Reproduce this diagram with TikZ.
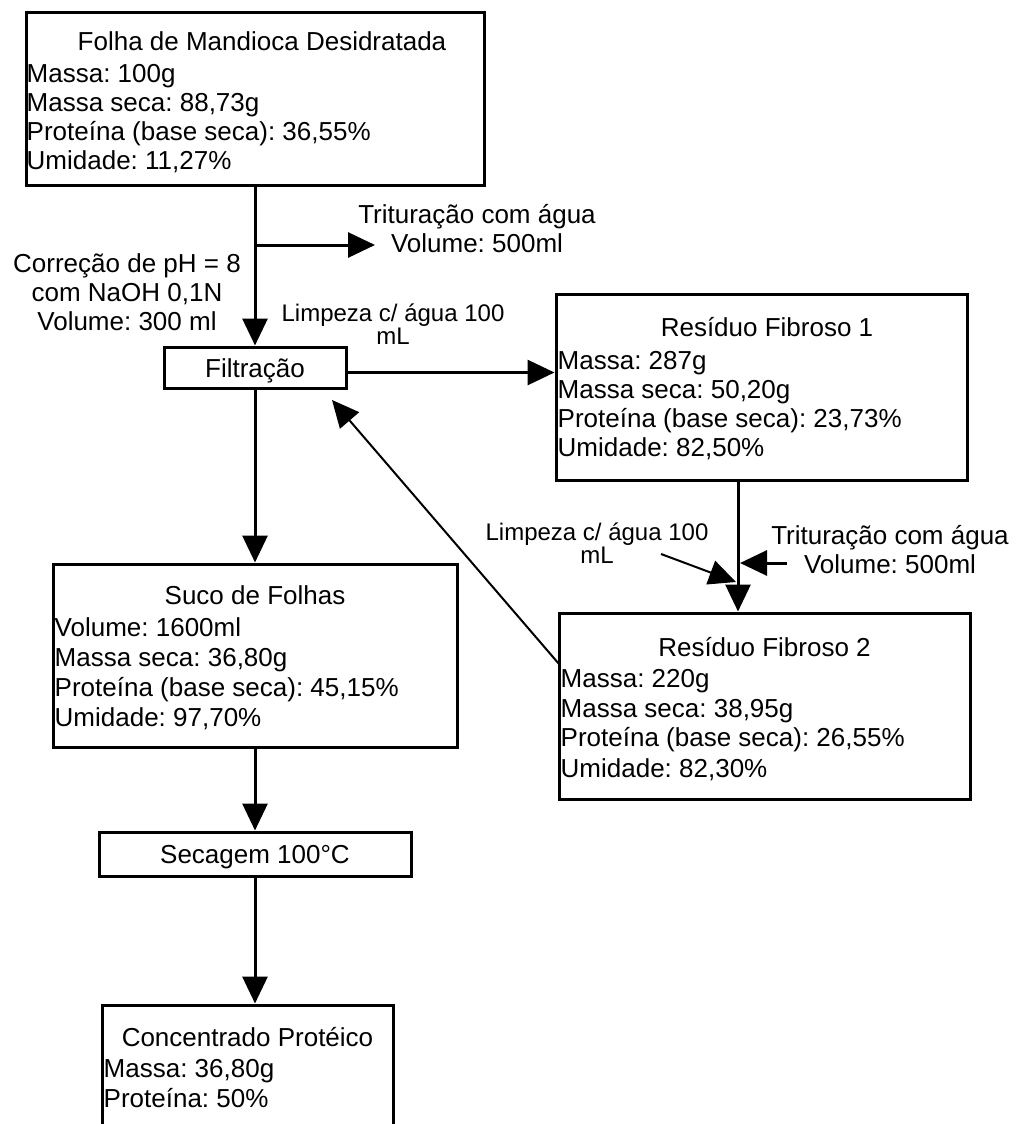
\documentclass[tikz,border=0pt]{standalone}
\usepackage{fontspec}
\setmainfont{Liberation Sans}
\usetikzlibrary{arrows.meta}
\begin{document}
\frenchspacing
\begin{tikzpicture}[x=1pt,y=-1pt,
  box/.style={draw, line width=3pt, inner sep=0pt},
  txt/.style={inner sep=0pt, font=\fontsize{26}{30}\selectfont},
  row/.style={txt, anchor=base west},
  ttl/.style={txt, anchor=base},
  lbl/.style={inner sep=0pt, align=center, font=\fontsize{26}{29}\selectfont},
  smalllbl/.style={inner sep=0pt, align=center, font=\fontsize{24}{23}\selectfont},
  flow/.style={line width=3pt, -{Triangle[length=27pt,width=25pt]}},
  slim/.style={line width=2pt, -{Triangle[length=27pt,width=25pt]}},
]
\useasboundingbox (0,0) rectangle (1015,1124);
\clip (0,0) rectangle (1015,1124);

% process boxes
\node[box, minimum width=458pt, minimum height=172pt] (folha) at (255,99) {};
\node[box, minimum width=182pt, minimum height=41pt] (filt) at (255,367.5) {};
\node[box, minimum width=411pt, minimum height=186pt] (res1) at (761.5,387) {};
\node[box, minimum width=411pt, minimum height=186pt] (res2) at (764.5,706) {};
\node[box, minimum width=404pt, minimum height=183pt] (suco) at (255,655.5) {};
\node[box, minimum width=312pt, minimum height=44pt] (seca) at (255,854) {};
\node[box, minimum width=291pt, minimum height=150pt] (conc) at (247.5,1080) {};

% box contents
\node[ttl] (folhaT) at (262,51) {Folha de Mandioca Desidratada};
\node[row] (folha1) at (26.5,82) {Massa: 100g};
\node[row] (folha2) at (26.5,111) {Massa seca: 88,73g};
\node[row] (folha3) at (26.5,140) {Proteína (base seca): 36,55\%};
\node[row] (folha4) at (26.5,169) {Umidade: 11,27\%};

\node[ttl] (filtT) at (255,377) {Filtração};

\node[ttl] (res1T) at (767,336) {Resíduo Fibroso 1};
\node[row] (res11) at (557.5,369) {Massa: 287g};
\node[row] (res12) at (557.5,398) {Massa seca: 50,20g};
\node[row] (res13) at (557.5,427) {Proteína (base seca): 23,73\%};
\node[row] (res14) at (557.5,456) {Umidade: 82,50\%};

\node[ttl] (res2T) at (764.5,656) {Resíduo Fibroso 2};
\node[row] (res21) at (560.5,687) {Massa: 220g};
\node[row] (res22) at (560.5,717) {Massa seca: 38,95g};
\node[row] (res23) at (560.5,746) {Proteína (base seca): 26,55\%};
\node[row] (res24) at (560.5,777) {Umidade: 82,30\%};

\node[ttl] (sucoT) at (255,604) {Suco de Folhas};
\node[row] (suco1) at (54.5,636) {Volume: 1600ml};
\node[row] (suco2) at (54.5,666) {Massa seca: 36,80g};
\node[row] (suco3) at (54.5,696) {Proteína (base seca): 45,15\%};
\node[row] (suco4) at (54.5,726) {Umidade: 97,70\%};

\node[ttl] (secaT) at (255,863) {Secagem 100°C};

\node[ttl] (concT) at (247.5,1046) {Concentrado Protéico};
\node[row] (conc1) at (103.5,1077) {Massa: 36,80g};
\node[row] (conc2) at (103.5,1107) {Proteína: 50\%};

% side labels
\node[lbl] (trit1) at (477,229) {Trituração com água\\Volume: 500ml};
\node[lbl] (corr) at (127,292) {Correção de pH = 8\\com NaOH 0,1N\\Volume: 300 ml};
\node[smalllbl] (limp1) at (393,324) {Limpeza c/ água 100\\mL};
\node[smalllbl] (limp2) at (597,543) {Limpeza c/ água 100\\mL};
\node[lbl] (trit2) at (890,550) {Trituração com água\\Volume: 500ml};

% junctions and free ends
\coordinate (j1) at (255,245);
\coordinate (t1) at (375,245);
\coordinate (xr) at (738,0);
\coordinate (j2) at (736,582);
\coordinate (s2) at (661,554);
\coordinate (j3) at (740,563);
\coordinate (s3) at (787,563);
\coordinate (d0) at (559,664);
\coordinate (d1) at (332,400);

% connectors
\draw[flow] (folha.south) -- (filt.north);
\draw[flow] (j1) -- (t1);
\draw[flow] ([yshift=-5pt]filt.east) -- ([yshift=-5pt]filt.east -| res1.west);
\draw[flow] (filt.south) -- (suco.north);
\draw[flow] (suco.south) -- (seca.north);
\draw[flow] (seca.south) -- (seca.south |- conc.north);
\draw[flow] (res1.south -| xr) -- (res2.north -| xr);
\draw[slim] (s2) -- (j2);
\draw[flow] (s3) -- (j3);
\draw[slim] (d0) -- (d1);
\end{tikzpicture}
\end{document}
